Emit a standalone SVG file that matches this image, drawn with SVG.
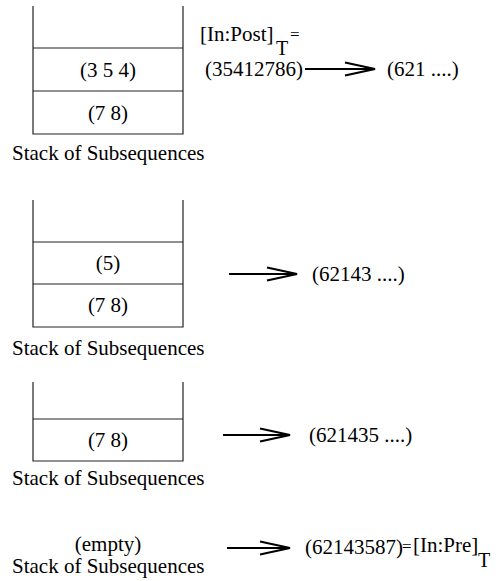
<svg xmlns="http://www.w3.org/2000/svg" width="500" height="581" viewBox="0 0 500 581">
  <style>
    text { font-family: "Liberation Serif", "Times New Roman", serif; font-size: 21px; fill: #000; }
    .mid { text-anchor: middle; }
    .sub { font-size: 20px; }
    .eq { font-size: 17px; }
    .stack { fill: none; stroke: #222; stroke-width: 1.2; }
    .arrow { fill: none; stroke: #000; stroke-width: 2.2; }
  </style>
  <defs>
    <marker id="chevron" markerUnits="userSpaceOnUse" markerWidth="34" markerHeight="16" refX="31" refY="8" orient="auto">
      <path d="M1,1.5 L31,8 L1,14.5" fill="none" stroke="#000" stroke-width="2.2"/>
    </marker>
  </defs>

  <!-- stage 1: stack with two subsequences -->
  <g id="stack1">
    <path class="stack" d="M33,6 V134 H183 V6 M33,48 H183 M33,91 H183"/>
    <text class="mid" x="108" y="77">(3 5 4)</text>
    <text class="mid" x="108" y="120">(7 8)</text>
    <text x="12" y="160">Stack of Subsequences</text>
  </g>
  <g id="seq1">
    <text x="200" y="41">[In:Post]</text>
    <text class="sub" x="276" y="55">T</text>
    <text class="eq" x="290" y="40">=</text>
    <text x="205" y="76">(35412786)</text>
  </g>
  <g id="out1">
    <text x="387" y="76">(621 ....)</text>
  </g>

  <!-- stage 2 -->
  <g id="stack2">
    <path class="stack" d="M33,200 V327 H183 V200 M33,242 H183 M33,284 H183"/>
    <text class="mid" x="108" y="270">(5)</text>
    <text class="mid" x="108" y="312">(7 8)</text>
    <text x="12" y="355">Stack of Subsequences</text>
  </g>
  <g id="out2">
    <text x="312" y="281">(62143 ....)</text>
  </g>

  <!-- stage 3 -->
  <g id="stack3">
    <path class="stack" d="M33,382 V461 H183 V382 M33,419 H183"/>
    <text class="mid" x="108" y="447">(7 8)</text>
    <text x="12" y="485">Stack of Subsequences</text>
  </g>
  <g id="out3">
    <text x="309" y="442">(621435 ....)</text>
  </g>

  <!-- stage 4: stack emptied -->
  <g id="stack4">
    <text class="mid" x="108" y="551">(empty)</text>
    <text x="12" y="573">Stack of Subsequences</text>
  </g>
  <g id="out4">
    <text x="305" y="554">(62143587)</text>
    <text class="eq" x="402" y="552">=</text>
    <text x="413" y="552">[In:Pre]</text>
    <text class="sub" x="478" y="567">T</text>
  </g>

  <!-- connectors -->
  <g id="connectors">
    <line class="arrow" x1="305" y1="69" x2="375" y2="69" marker-end="url(#chevron)"/>
    <line class="arrow" x1="229" y1="274" x2="297" y2="274" marker-end="url(#chevron)"/>
    <line class="arrow" x1="223" y1="435" x2="290" y2="435" marker-end="url(#chevron)"/>
    <line class="arrow" x1="227" y1="548" x2="290" y2="548" marker-end="url(#chevron)"/>
  </g>
</svg>
